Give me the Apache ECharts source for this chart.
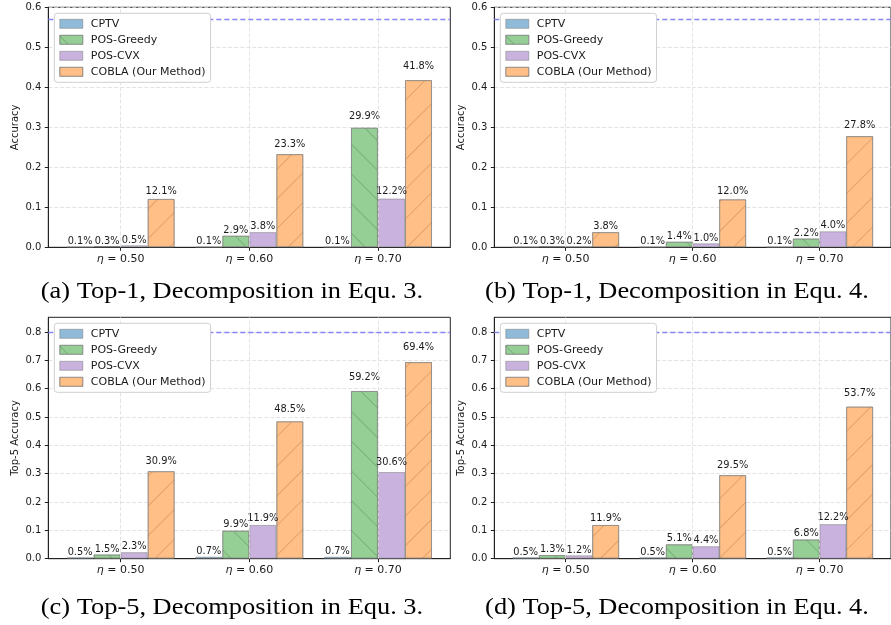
<!DOCTYPE html>
<html><head><meta charset="utf-8">
<script src="https://cdn.jsdelivr.net/npm/echarts@6/dist/echarts.min.js"></script>
<style>html,body{margin:0;padding:0;background:#fff}#c{width:891px;height:625px}</style>
</head><body><div id="c"></div>
<script>
// ---- data ----
const etaLabels = ['0.50', '0.60', '0.70'];
const methods = ['CPTV', 'POS-Greedy', 'POS-CVX', 'COBLA (Our Method)'];
const captions = [
  '(a) Top-1, Decomposition in Equ. 3.',
  '(b) Top-1, Decomposition in Equ. 4.',
  '(c) Top-5, Decomposition in Equ. 3.',
  '(d) Top-5, Decomposition in Equ. 4.'
];
const yNames = ['Accuracy', 'Accuracy', 'Top-5 Accuracy', 'Top-5 Accuracy'];
const yTicksTop1 = [0, 0.1, 0.2, 0.3, 0.4, 0.5, 0.6];
const yTicksTop5 = [0, 0.1, 0.2, 0.3, 0.4, 0.5, 0.6, 0.7, 0.8];
const refTop1 = 0.571;
const refTop5 = 0.80;

// (a) Top-1, Equ. 3
const aCPTV   = [0.001, 0.001, 0.001];
const aGreedy = [0.003, 0.029, 0.299];
const aCVX    = [0.005, 0.038, 0.122];
const aCOBLA  = [0.121, 0.233, 0.418];
// (b) Top-1, Equ. 4
const bCPTV   = [0.001, 0.001, 0.001];
const bGreedy = [0.003, 0.014, 0.022];
const bCVX    = [0.002, 0.010, 0.040];
const bCOBLA  = [0.038, 0.120, 0.278];
// (c) Top-5, Equ. 3
const cCPTV   = [0.005, 0.007, 0.007];
const cGreedy = [0.015, 0.099, 0.592];
const cCVX    = [0.023, 0.119, 0.306];
const cCOBLA  = [0.309, 0.485, 0.694];
// (d) Top-5, Equ. 4
const dCPTV   = [0.005, 0.005, 0.005];
const dGreedy = [0.013, 0.051, 0.068];
const dCVX    = [0.012, 0.044, 0.122];
const dCOBLA  = [0.119, 0.295, 0.537];

// ---- layout / style ----
const panelData = [
  [aCPTV, aGreedy, aCVX, aCOBLA],
  [bCPTV, bGreedy, bCVX, bCOBLA],
  [cCPTV, cGreedy, cCVX, cCOBLA],
  [dCPTV, dGreedy, dCVX, dCOBLA]
];
const panelTicks = [yTicksTop1, yTicksTop1, yTicksTop5, yTicksTop5];
const panelRef = [refTop1, refTop1, refTop5, refTop5];
const panelYMax = [0.6, 0.6, 0.852, 0.852];
const grids = [
  {left: 48.3, top: 7.3, width: 402, height: 240},
  {left: 494.3, top: 7.3, width: 402, height: 240},
  {left: 48.3, top: 317.3, width: 402, height: 241.4},
  {left: 494.3, top: 317.3, width: 402, height: 241.4}
];
const captionPos = [[232, 292], [677, 292], [232, 608], [677, 608]];
const BAR_W = 0.21;
const X_MIN = -0.562, X_MAX = 2.562;
const fills = ['#8fbbd9', '#96cf96', '#c9b3de', '#ffbf86'];
const edge = 'rgba(120,120,120,0.5)';
const decals = [
  null,
  {symbol: 'rect', symbolSize: 1, dashArrayX: [1, 0], dashArrayY: [1, 20], rotation: Math.PI / 4, color: 'rgba(70,120,70,0.35)'},
  null,
  {symbol: 'rect', symbolSize: 1, dashArrayX: [1, 0], dashArrayY: [1, 20], rotation: -Math.PI / 4, color: 'rgba(170,110,60,0.35)'}
];
const SANS = 'DejaVu Sans';
const TXT = '#1a1a1a';
const gridLine = {show: true, lineStyle: {color: '#dcdcdc', type: [4, 2], width: 0.8}};

const option = {
  animation: false,
  backgroundColor: '#fff',
  grid: [], xAxis: [], yAxis: [], legend: [], series: [], graphic: []
};

grids.forEach((g, k) => {
  option.grid.push(Object.assign({show: true, borderColor: '#222', borderWidth: 1, backgroundColor: 'transparent', containLabel: false}, g));
  option.xAxis.push({
    type: 'value', gridIndex: k, min: X_MIN, max: X_MAX,
    axisLine: {show: true, onZero: false, lineStyle: {color: '#222'}},
    axisTick: {show: true, length: 3.5, lineStyle: {color: '#222'}, customValues: [0, 1, 2]},
    axisLabel: {
      customValues: [0, 1, 2], margin: 6, color: TXT, fontFamily: SANS, fontSize: 11,
      formatter: v => '{i|η} = ' + etaLabels[Math.round(v)],
      rich: {i: {fontStyle: 'italic', fontFamily: SANS, fontSize: 11, color: TXT}}
    },
    splitLine: {show: false}
  });
  option.yAxis.push({
    type: 'value', gridIndex: k, min: 0, max: panelYMax[k],
    name: yNames[k], nameLocation: 'middle', nameGap: 28,
    nameTextStyle: {fontFamily: SANS, fontSize: 10, color: TXT},
    axisLine: {show: true, onZero: false, lineStyle: {color: '#222'}},
    axisTick: {show: true, length: 3.5, lineStyle: {color: '#222'}, customValues: panelTicks[k]},
    axisLabel: {customValues: panelTicks[k], margin: 7, color: TXT, fontFamily: SANS, fontSize: 10,
      formatter: v => v.toFixed(1)},
    interval: 0.1,
    splitLine: gridLine
  });
  option.legend.push({
    data: methods, orient: 'vertical', left: g.left + 6, top: g.top + 6, z: 20,
    itemWidth: 23, itemHeight: 9, itemGap: 5, icon: 'rect',
    itemStyle: {borderWidth: 1, borderColor: edge},
    padding: [5, 5, 5, 5], borderColor: '#cfcfcf', borderWidth: 1, borderRadius: 3,
    backgroundColor: '#ffffff',
    textStyle: {fontFamily: SANS, fontSize: 11, color: TXT, padding: [0, 0, 0, 3]},
    selectedMode: false
  });
  const pxPerUnit = g.height / panelYMax[k];
  // grid lines at the category ticks + reference line
  option.series.push({
    type: 'line', xAxisIndex: k, yAxisIndex: k, data: [], z: 1, silent: true,
    markLine: {
      silent: true, symbol: ['none', 'none'], label: {show: false}, animation: false,
      data: [
        ...[0, 1, 2].map(i => ({xAxis: i, lineStyle: {color: '#dcdcdc', type: [4, 2], width: 0.8}})),
        {yAxis: panelRef[k], lineStyle: {color: '#8585f5', type: [5, 3], width: 1.3}}
      ]
    }
  });
  panelData[k].forEach((vals, j) => {
    option.series.push({
      type: 'bar', name: methods[j], xAxisIndex: k, yAxisIndex: k, z: 2,
      barWidth: BAR_W * g.width / (X_MAX - X_MIN), barGap: '-100%',
      itemStyle: Object.assign({color: fills[j], borderColor: edge, borderWidth: 1}, decals[j] ? {decal: decals[j]} : {}),
      label: {
        show: true, position: 'top', fontFamily: SANS, fontSize: 9.8, color: TXT,
        formatter: p => (p.value[1] * 100).toFixed(1) + '%'
      },
      data: vals.map((v, i) => ({
        value: [i + (j - 1.5) * BAR_W, v],
        label: {distance: v * 0.05 * pxPerUnit}
      }))
    });
  });
  option.graphic.push({
    type: 'text', x: captionPos[k][0], y: captionPos[k][1], scaleX: 1.1,
    style: {text: captions[k], fill: '#000', font: '24px "Liberation Serif"', align: 'center', verticalAlign: 'middle'}
  });
});

const chart = echarts.init(document.getElementById('c'), null, {renderer: 'canvas'});
chart.setOption(option);
</script></body></html>
